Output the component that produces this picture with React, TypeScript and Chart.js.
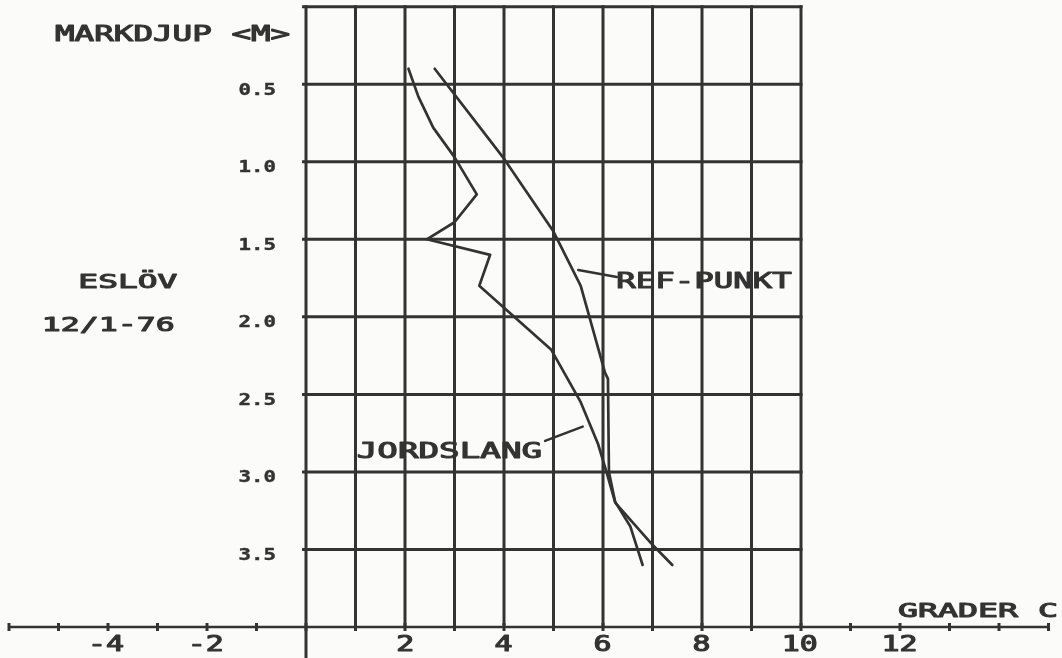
import React, { useEffect, useRef } from 'react';
import { Chart, registerables } from 'chart.js';

Chart.register(...registerables);

const W = 1062;
const H = 658;
const INK = '#333333';
const PAPER = '#fbfbfa';

// ---- data (temperature °C vs depth m) ----
const refTemp = [2.6, 4.0, 5.0, 5.55, 6.04, 6.1, 6.12, 6.25, 7.0, 7.4];
const refDepth = [0.4, 0.98, 1.45, 1.8, 2.36, 2.4, 3.0, 3.2, 3.47, 3.6];

const jordTemp = [2.07, 2.27, 2.57, 3.0, 3.45, 3.0, 2.44, 3.72, 3.5, 4.95, 5.55, 5.9, 6.07, 6.24, 6.55, 6.8];
const jordDepth = [0.4, 0.58, 0.78, 0.97, 1.21, 1.39, 1.5, 1.6, 1.8, 2.21, 2.55, 2.82, 3.0, 3.19, 3.35, 3.6];

// ---- axes / grid ----
const depthGrid = [0, 0.5, 1.0, 1.5, 2.0, 2.5, 3.0, 3.5];
const depthTicks = [0.5, 1.0, 1.5, 2.0, 2.5, 3.0, 3.5];
const depthTickLabels = ['0.5', '1.0', '1.5', '2.0', '2.5', '3.0', '3.5'];
const tempGrid = [0, 1, 2, 3, 4, 5, 6, 7, 8, 9, 10];
const tempAxisTicks = [-6, -5, -4, -3, -2, -1, 0, 1, 2, 3, 4, 5, 6, 7, 8, 9, 10, 11, 12, 13, 14, 15];
const tempTicks = [-4, -2, 2, 4, 6, 8, 10, 12];
const tempTickLabels = ['-4', '-2', '2', '4', '6', '8', '10', '12'];

const TEMP_MIN = -6;
const TEMP_MAX = 15;
const DEPTH_MIN = 0;
const DEPTH_MAX = 4;

function plotText(
  ctx: CanvasRenderingContext2D,
  text: string,
  x: number,
  y: number,
  capH: number,
  pitch: number,
  align: 'left' | 'right' | 'center',
  weight = 'normal',
  stroke = 1.1
) {
  const fs = capH / 0.729;
  ctx.save();
  ctx.font = `${weight} ${fs}px "DejaVu Sans Mono", "Liberation Mono", monospace`;
  ctx.textAlign = 'left';
  ctx.textBaseline = 'alphabetic';
  const adv = ctx.measureText('0').width;
  const sx = pitch / adv;
  const m = ctx.measureText(text);
  const inkL = -m.actualBoundingBoxLeft;
  const inkR = m.actualBoundingBoxRight;
  let ox: number;
  if (align === 'left') ox = x - inkL * sx;
  else if (align === 'right') ox = x - inkR * sx;
  else ox = x - ((inkL + inkR) / 2) * sx;
  ctx.translate(ox, y);
  ctx.scale(sx, 1);
  ctx.fillStyle = INK;
  ctx.strokeStyle = INK;
  ctx.lineWidth = stroke;
  ctx.lineJoin = 'round';
  ctx.fillText(text, 0, 0);
  if (stroke > 0) ctx.strokeText(text, 0, 0);
  ctx.restore();
}

function seg(ctx: CanvasRenderingContext2D, x1: number, y1: number, x2: number, y2: number) {
  ctx.beginPath();
  ctx.moveTo(x1, y1);
  ctx.lineTo(x2, y2);
  ctx.stroke();
}

const paperPlugin = {
  id: 'paper',
  beforeDraw(chart: any) {
    const { ctx, width, height } = chart;
    ctx.save();
    ctx.fillStyle = PAPER;
    ctx.fillRect(0, 0, width, height);
    ctx.restore();
  },
};

const plotterPlugin = {
  id: 'plotter',
  beforeDatasetsDraw(chart: any) {
    const { ctx } = chart;
    const xs = chart.scales.x;
    const ys = chart.scales.y;
    const px = (v: number) => xs.getPixelForValue(v);
    const py = (v: number) => ys.getPixelForValue(v);
    ctx.save();
    ctx.strokeStyle = INK;
    ctx.lineWidth = 3;
    ctx.lineCap = 'butt';
    // horizontal grid lines (0..10 only)
    depthGrid.forEach((d) => seg(ctx, px(0) - 4, py(d), px(10) + 1.5, py(d)));
    // vertical grid lines
    tempGrid.forEach((t) => seg(ctx, px(t), py(DEPTH_MIN) - 1.5, px(t), py(DEPTH_MAX)));
    // y axis continues below x axis
    seg(ctx, px(0), py(DEPTH_MAX), px(0), chart.height);
    // x axis
    ctx.lineWidth = 2.5;
    seg(ctx, px(TEMP_MIN), py(DEPTH_MAX), px(TEMP_MAX), py(DEPTH_MAX));
    ctx.lineWidth = 3;
    tempAxisTicks.forEach((t) => seg(ctx, px(t), py(DEPTH_MAX) - 4, px(t), py(DEPTH_MAX) + 4));
    ctx.restore();

    // tick labels
    depthTicks.forEach((d, i) => plotText(ctx, depthTickLabels[i], 276, py(d) + 10.5, 11, 12.5, 'right', 'bold', 0.4));
    tempTicks.forEach((t, i) => plotText(ctx, tempTickLabels[i], px(t), py(DEPTH_MAX) + 24, 15, 18, 'center'));
  },
  afterDatasetsDraw(chart: any) {
    const { ctx } = chart;
    const xs = chart.scales.x;
    const ys = chart.scales.y;
    const px = (v: number) => xs.getPixelForValue(v);
    const py = (v: number) => ys.getPixelForValue(v);

    // titles
    plotText(ctx, 'MARKDJUP <M>', 55, 40.7, 15.5, 19.6, 'left');
    plotText(ctx, 'ESLÖV', 80, 288.3, 14.5, 19.8, 'left');
    plotText(ctx, '12/1-76', 45, 331, 14.5, 19, 'left');
    plotText(ctx, 'GRADER C', px(11.96), py(3.935), 14.5, 20, 'left');

    // series labels with leaders
    ctx.save();
    ctx.strokeStyle = INK;
    ctx.lineWidth = 2.5;
    ctx.lineCap = 'round';
    seg(ctx, px(5.5), py(1.698), px(6.28), py(1.743));
    seg(ctx, px(4.83), py(2.8), px(5.59), py(2.708));
    ctx.restore();
    plotText(ctx, 'REF-PUNKT', px(6.3), py(1.816), 15.5, 19.5, 'left');
    plotText(ctx, 'JORDSLANG', px(1.057), py(2.912), 15.5, 20.6, 'left');
  },
};

export default function App() {
  const canvasRef = useRef<HTMLCanvasElement | null>(null);

  useEffect(() => {
    const canvas = canvasRef.current;
    if (!canvas) return;
    const lineStyle = {
      borderColor: INK,
      borderWidth: 2.7,
      pointRadius: 0,
      tension: 0,
      fill: false,
      borderJoinStyle: 'round' as const,
      borderCapStyle: 'round' as const,
    };
    const chart = new Chart(canvas, {
      type: 'line',
      data: {
        datasets: [
          {
            label: 'REF-PUNKT',
            data: refTemp.map((t, i) => ({ x: t, y: refDepth[i] })),
            ...lineStyle,
          },
          {
            label: 'JORDSLANG',
            data: jordTemp.map((t, i) => ({ x: t, y: jordDepth[i] })),
            ...lineStyle,
          },
        ],
      },
      options: {
        animation: false,
        responsive: false,
        devicePixelRatio: 1,
        events: [],
        layout: { padding: { left: 9, right: 13.5, top: 6.7, bottom: 31 } },
        scales: {
          x: { type: 'linear', min: TEMP_MIN, max: TEMP_MAX, display: false },
          y: { type: 'linear', min: DEPTH_MIN, max: DEPTH_MAX, reverse: true, display: false },
        },
        plugins: {
          legend: { display: false },
          tooltip: { enabled: false },
        },
      },
      plugins: [paperPlugin, plotterPlugin],
    });
    return () => chart.destroy();
  }, []);

  return (
    <div style={{ position: 'absolute', left: 0, top: 0, width: W, height: H, background: PAPER }}>
      <canvas ref={canvasRef} width={W} height={H} style={{ display: 'block' }} />
    </div>
  );
}
